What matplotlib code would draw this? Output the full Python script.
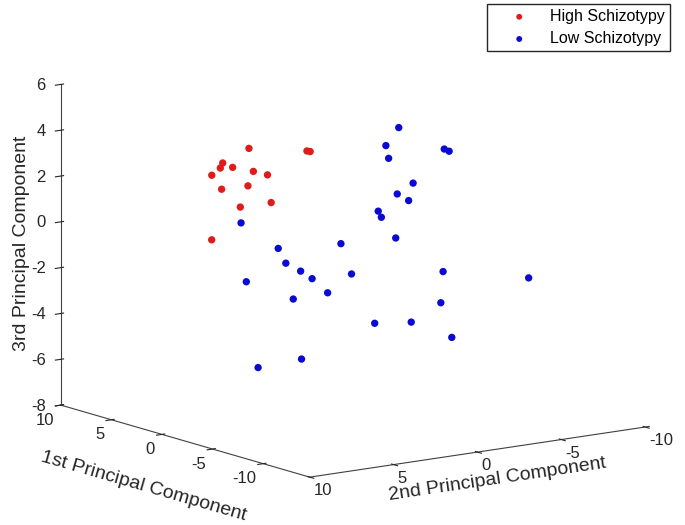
import matplotlib.pyplot as plt

plt.rcParams['font.family'] = ['Liberation Sans', 'DejaVu Sans']
plt.rcParams['axes.unicode_minus'] = False

# PCA scores (1st, 2nd, 3rd principal component)
high_pc1 = [5, 2, 1.5, 6, 7, 5.5, 4, 3, 6.5, 5, 7.5, 3.5, 6, 8]
high_pc2 = [1.8, 0.15, 0.26, 2.76, 2.3, 2.47, 2.14, 1.9, 3.11, 1.86, 1.92, 1.38, 1.71, 2.21]
high_pc3 = [2.95, 3.04, 3.09, 2.29, 1.89, 2.13, 2.11, 2.06, 1.73, 1.32, 0.86, 0.73, 0.25, -1.38]

low_pc1 = [-8, -6, -7, -9, -9.5, -10, -5, -11, -4, -6, 2, -8, -3, 0, -1,
           -2, -3, -6, -12, 1, -5, -2, -11, -7, -9, -12, -3, 0, -13]
low_pc2 = [0.71, 0.27, 0.71, -1.4, -1.39, 1.06, -1.01, 1.93, -0.48, 0.54, 4.08, 0.89, 1.14, 3.07, 3.22,
           2.94, 2.86, 2.32, 0.48, 4.37, 3.14, 3.38, 0.01, 1.54, 0.57, -0.04, 3.49, 4.27, -4.02]
low_pc3 = [5.4, 4.31, 3.93, 4.36, 4.33, 3.27, 1.93, 2.73, 1.11, 1.21, 0.33, 0.6, -0.26, -0.64, -1.14,
           -1.39, -1.6, -1.07, -0.4, -2.08, -1.93, -2.56, -1.94, -3.18, -2.98, -3.33, -5.04, -5.71, -1.04]

fig = plt.figure(figsize=(6.85, 5.25), dpi=100)
ax = fig.add_axes([0.008, 0.0, 1.0, 1.0], projection='3d', proj_type='ortho')

ax.scatter(high_pc1, high_pc2, high_pc3, s=28, c='#e01b1b', depthshade=False,
           edgecolors='none', label='High Schizotypy')
ax.scatter(low_pc1, low_pc2, low_pc3, s=28, c='#0a0ad2', depthshade=False,
           edgecolors='none', label='Low Schizotypy')

ax.set_xlim(-14.6, 10)
ax.set_ylim(-10.25, 10)
ax.set_zlim(-8, 6)
ax.set_xticks([-10, -5, 0, 5, 10])
ax.set_yticks([-10, -5, 0, 5, 10])
ax.set_zticks(range(-8, 7, 2))
ax.view_init(elev=12, azim=144.3)
ax.set_box_aspect((1.02, 1, 0.784), zoom=1.26)

# MATLAB look: no panes, no grid, thin dark axis lines
ax.grid(False)
for axis in (ax.xaxis, ax.yaxis, ax.zaxis):
    axis.set_pane_color((1, 1, 1, 0))
    axis.pane.set_edgecolor((1, 1, 1, 0))
    axis.line.set_color('#404040')
    axis.line.set_linewidth(0.8)
ax.zaxis.set_ticks_position('upper')
ax.zaxis.set_label_position('upper')
ax.tick_params(labelsize=12, colors='#262626')
ax.xaxis.set_tick_params(pad=-4)
ax.yaxis.set_tick_params(pad=-5)
ax.zaxis.set_tick_params(pad=-3)
for lbl in ax.get_xticklabels():
    lbl.set_horizontalalignment('right')
for lbl in ax.get_yticklabels():
    lbl.set_horizontalalignment('left')
for lbl in ax.get_zticklabels():
    lbl.set_horizontalalignment('right')
    lbl.set_verticalalignment('center_baseline')

ax.set_xlabel('1st Principal Component', fontsize=14, color='#262626', labelpad=3)
ax.set_ylabel('2nd Principal Component', fontsize=14, color='#262626', labelpad=-7)
ax.set_zlabel('3rd Principal Component', fontsize=14, color='#262626', labelpad=-8)

ax.legend(loc='upper right', bbox_to_anchor=(0.978, 0.992), bbox_transform=fig.transFigure,
          borderaxespad=0, fontsize=11.5, fancybox=False, edgecolor='#262626', framealpha=1,
          handlelength=3.4, handletextpad=0.25, borderpad=0.3, labelspacing=0.45, markerscale=0.8)

fig.savefig('out.png', dpi=100)
